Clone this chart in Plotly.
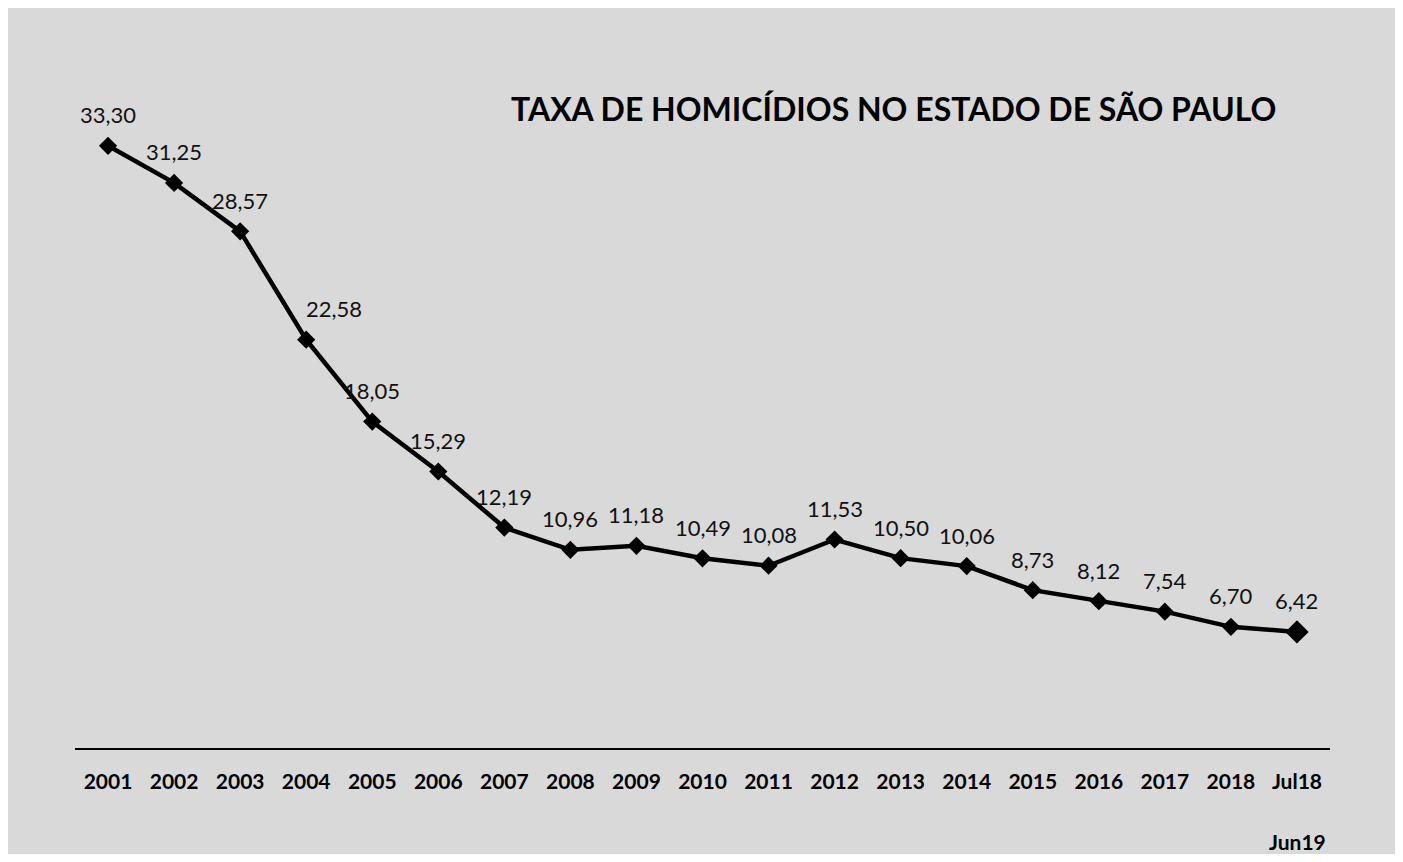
import plotly.graph_objects as go

categories = ["2001", "2002", "2003", "2004", "2005", "2006", "2007", "2008", "2009", "2010",
              "2011", "2012", "2013", "2014", "2015", "2016", "2017", "2018", "Jul18"]
values = [33.30, 31.25, 28.57, 22.58, 18.05, 15.29, 12.19, 10.96, 11.18, 10.49,
          10.08, 11.53, 10.50, 10.06, 8.73, 8.12, 7.54, 6.70, 6.42]
value_labels = [f"{v:.2f}".replace(".", ",") for v in values]
title_text = "TAXA DE HOMICÍDIOS NO ESTADO DE SÃO PAULO"
footnote = "Jun19"

BG = "#d9d9d9"
FONT = "Lato"

marker_sizes = [14] * (len(values) - 1) + [18]

fig = go.Figure()
fig.add_trace(go.Scatter(
    x=categories, y=values, mode="lines+markers",
    line=dict(color="black", width=4.5),
    marker=dict(symbol="diamond", size=marker_sizes, color="black",
                opacity=1, line=dict(width=0)),
    hoverinfo="skip", showlegend=False,
))

for i, (v, t) in enumerate(zip(values, value_labels)):
    fig.add_annotation(
        x=i, y=v, text=t, showarrow=False,
        xshift=28 if categories[i] == "2004" else 0, yshift=31,
        font=dict(family=FONT, size=22, color="#111111"),
    )

fig.add_annotation(
    x=0.652, y=0.983, xref="paper", yref="paper", text=f"<b>{title_text}</b>",
    showarrow=False, xanchor="center", yanchor="middle",
    font=dict(family=FONT, size=32, color="black"),
)
fig.add_annotation(
    x=0.974, y=-0.144, xref="paper", yref="paper", text=f"<b>{footnote}</b>",
    showarrow=False, xanchor="center", yanchor="middle",
    font=dict(family=FONT, size=21, color="black"),
)

fig.update_layout(
    width=1395, height=846,
    paper_bgcolor=BG, plot_bgcolor=BG,
    margin=dict(l=67, r=73, t=89, b=106),
    xaxis=dict(
        type="category", range=[-0.5, len(categories) - 0.5],
        showgrid=False, zeroline=False, showline=True, linecolor="black", linewidth=2,
        ticks="", tickfont=dict(family=FONT, size=21, color="black", weight="bold"),
        ticklabelstandoff=14,
    ),
    yaxis=dict(range=[0, 36], visible=False, showgrid=False, zeroline=False),
)

fig.write_html("out.html")
